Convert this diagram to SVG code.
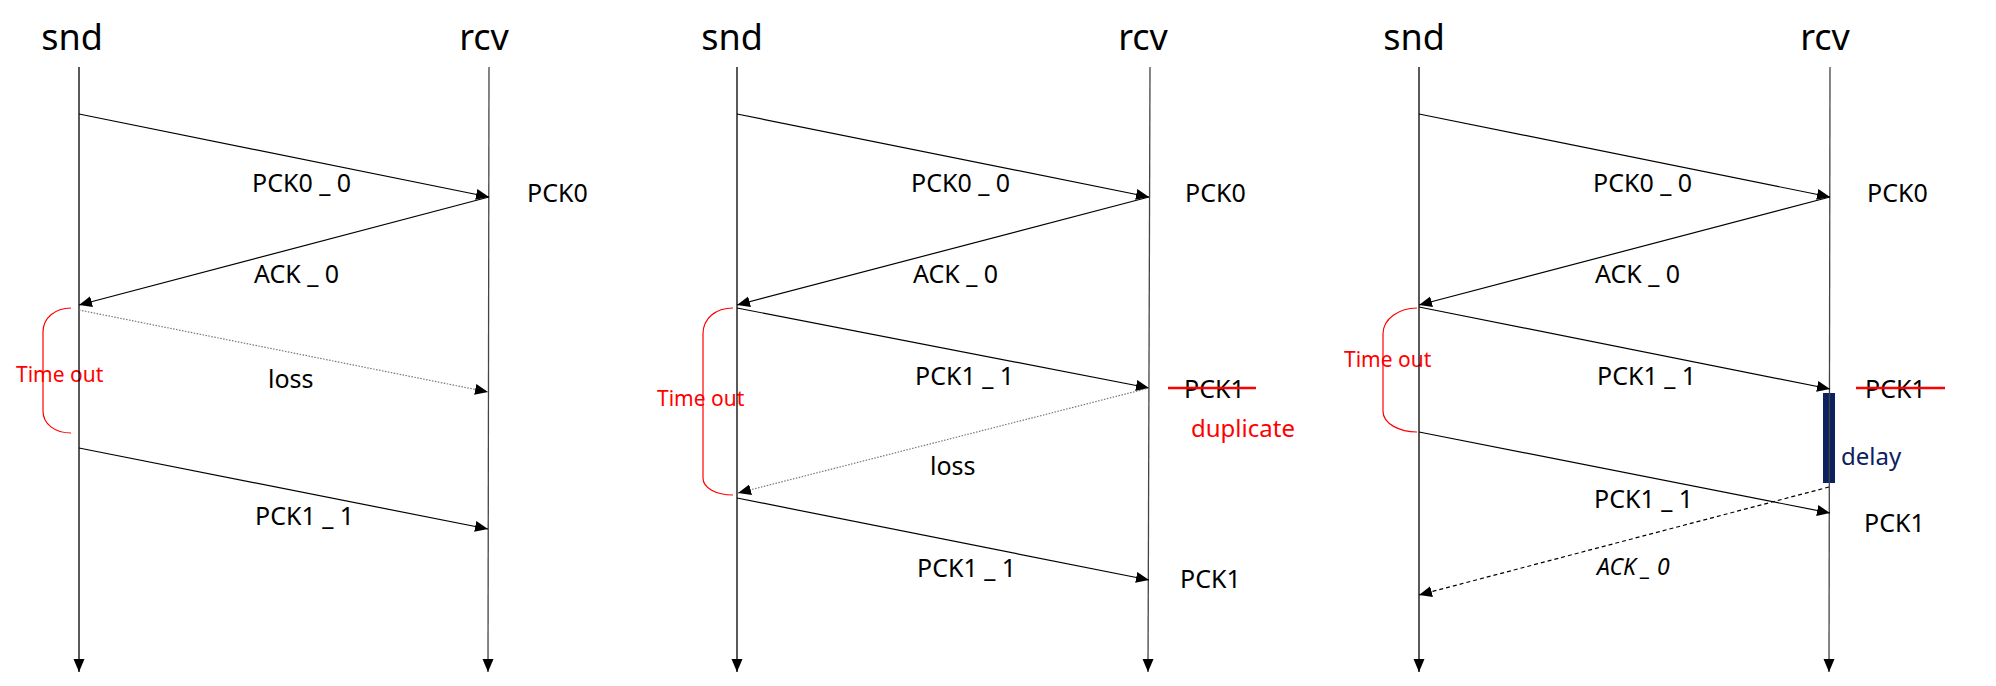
<svg xmlns="http://www.w3.org/2000/svg" width="1996" height="686" viewBox="0 0 1996 686">
<style>
.t{font-family:"Noto Sans","Open Sans",sans-serif;fill:#000}
.hd{font-size:36px}
.lb{font-size:25px}
.red{fill:#ff0000}
.life{stroke:#000;stroke-width:1.3;fill:none}
.rl{stroke:#444;stroke-width:1.3;fill:none}
.msg{stroke:#000;stroke-width:1.2;fill:none}
.dot{stroke:#777;stroke-width:1.2;stroke-dasharray:1.5 1.5;fill:none}
.dash{stroke:#000;stroke-width:1.2;stroke-dasharray:4 3;fill:none}
.brace{stroke:#ff0000;stroke-width:1.2;fill:none}
.strike{stroke:#ff0000;stroke-width:2.5}
</style>
<defs>
<marker id="ah" markerUnits="userSpaceOnUse" markerWidth="14" markerHeight="12" refX="13" refY="5.5" orient="auto">
<path d="M0,0 L13,5.5 L0,11 z" fill="#000"/>
</marker>
</defs>

<g id="panel1">
<g id="p1-snd"><text class="t hd" x="72" y="50" text-anchor="middle">snd</text></g>
<g id="p1-rcv"><text class="t hd" x="484" y="50" text-anchor="middle">rcv</text></g>
<g id="p1-texts">
<text class="t lb" x="252" y="192">PCK0 _ 0</text>
<text class="t lb" x="527" y="202">PCK0</text>
<text class="t lb" x="254" y="283">ACK _ 0</text>
<text class="t lb" x="268" y="388">loss</text>
<text class="t lb" x="255" y="525">PCK1 _ 1</text>
<text class="t red" x="16" y="382" font-size="21">Time out</text>
</g>
</g>

<g id="panel2">
<g id="p2-snd"><text class="t hd" x="732" y="50" text-anchor="middle">snd</text></g>
<g id="p2-rcv"><text class="t hd" x="1143" y="50" text-anchor="middle">rcv</text></g>
<g id="p2-texts">
<text class="t lb" x="911" y="192">PCK0 _ 0</text>
<text class="t lb" x="1185" y="202">PCK0</text>
<text class="t lb" x="913" y="283">ACK _ 0</text>
<text class="t lb" x="915" y="385">PCK1 _ 1</text>
<text class="t lb" x="1184" y="398">PCK1</text>
<line class="strike" x1="1168" y1="388" x2="1256" y2="388"/>
<text class="t red" x="1191" y="437" font-size="24">duplicate</text>
<text class="t lb" x="930" y="475">loss</text>
<text class="t lb" x="917" y="577">PCK1 _ 1</text>
<text class="t lb" x="1180" y="588">PCK1</text>
<text class="t red" x="657" y="406" font-size="21">Time out</text>
</g>
</g>

<g id="panel3">
<g id="p3-snd"><text class="t hd" x="1414" y="50" text-anchor="middle">snd</text></g>
<g id="p3-rcv"><text class="t hd" x="1825" y="50" text-anchor="middle">rcv</text></g>
<g id="p3-texts">
<text class="t lb" x="1593" y="192">PCK0 _ 0</text>
<text class="t lb" x="1867" y="202">PCK0</text>
<text class="t lb" x="1595" y="283">ACK _ 0</text>
<text class="t lb" x="1597" y="385">PCK1 _ 1</text>
<text class="t lb" x="1865" y="398">PCK1</text>
<line class="strike" x1="1856" y1="388" x2="1945" y2="388"/>
<text class="t lb" x="1594" y="508">PCK1 _ 1</text>
<text class="t lb" x="1864" y="532">PCK1</text>
<text class="t" x="1597" y="575" font-size="23" font-style="italic">ACK _ 0</text>
<text class="t red" x="1344" y="367" font-size="21">Time out</text>
</g>
<g id="p3-delay">
<rect x="1823" y="393" width="12" height="90" fill="#0c2160"/>
<text class="t" x="1841" y="465" font-size="24" style="fill:#0c2160">delay</text>
</g>
</g>

<g id="connectors">
<line class="life" x1="79" y1="67" x2="79" y2="672" marker-end="url(#ah)"/>
<line class="rl" x1="489" y1="67" x2="488" y2="672" marker-end="url(#ah)"/>
<line class="life" x1="737" y1="67" x2="737" y2="672" marker-end="url(#ah)"/>
<line class="rl" x1="1150" y1="67" x2="1148" y2="672" marker-end="url(#ah)"/>
<line class="life" x1="1419" y1="67" x2="1419" y2="672" marker-end="url(#ah)"/>
<line class="rl" x1="1830" y1="67" x2="1829" y2="672" marker-end="url(#ah)"/>

<line class="msg" x1="79" y1="114" x2="489" y2="197" marker-end="url(#ah)"/>
<line class="msg" x1="489" y1="197" x2="79" y2="305" marker-end="url(#ah)"/>
<line class="dot" x1="79" y1="310" x2="488" y2="392" marker-end="url(#ah)"/>
<line class="msg" x1="79" y1="448" x2="488" y2="529" marker-end="url(#ah)"/>
<path class="brace" d="M71,308 C55,308 43,318 43,332 L43,411 C43,424 55,433 71,433"/>

<line class="msg" x1="737" y1="114" x2="1149" y2="197" marker-end="url(#ah)"/>
<line class="msg" x1="1149" y1="197" x2="737" y2="305" marker-end="url(#ah)"/>
<line class="msg" x1="737" y1="308" x2="1149" y2="388" marker-end="url(#ah)"/>
<line class="dot" x1="1149" y1="388" x2="738" y2="493" marker-end="url(#ah)"/>
<line class="msg" x1="737" y1="498" x2="1149" y2="580" marker-end="url(#ah)"/>
<path class="brace" d="M733,308 C716,308 703,318 703,334 L703,478 C703,488 716,495 733,495"/>

<line class="msg" x1="1419" y1="114" x2="1830" y2="197" marker-end="url(#ah)"/>
<line class="msg" x1="1830" y1="197" x2="1419" y2="305" marker-end="url(#ah)"/>
<line class="msg" x1="1419" y1="307" x2="1830" y2="389" marker-end="url(#ah)"/>
<line class="msg" x1="1419" y1="432" x2="1830" y2="513" marker-end="url(#ah)"/>
<line class="dash" x1="1829" y1="487" x2="1419" y2="595" marker-end="url(#ah)"/>
<path class="brace" d="M1417,308 C1400,308 1383,318 1383,334 L1383,411 C1383,424 1400,432 1417,432"/>
</g>
</svg>
